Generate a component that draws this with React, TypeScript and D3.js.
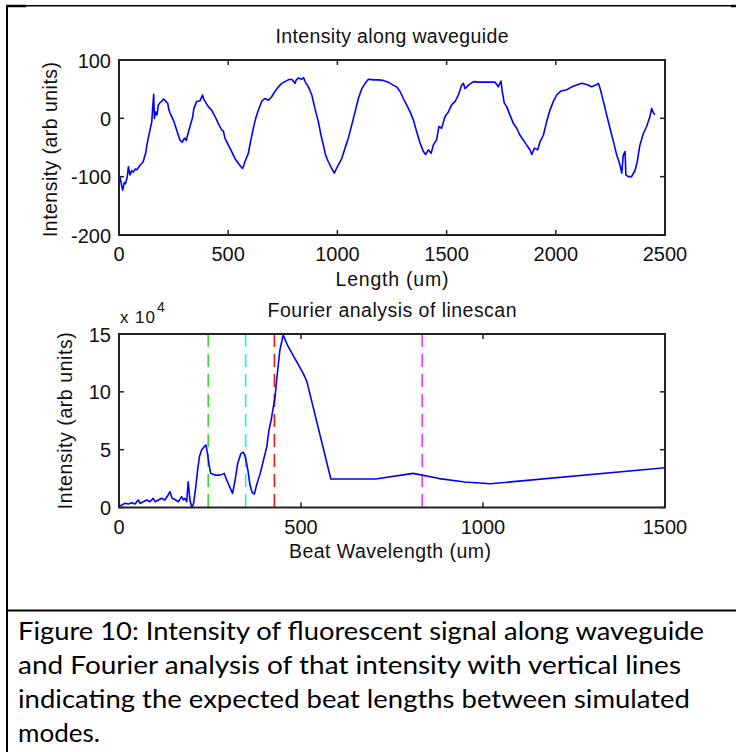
import React from "react";
import * as d3 from "d3";

// ---- Top plot: intensity along waveguide ----
const lengthUm = [
  0, 6, 12, 17, 24, 30, 38, 43, 50, 58, 66, 74, 82, 90, 97, 105, 111, 117, 122, 128,
  134, 142, 150, 154, 159, 162, 168, 174, 180, 188, 195, 203, 211, 217, 223, 228, 234, 249, 264, 279,
  290, 296, 302, 308, 314, 325, 336, 343, 356, 371, 382, 388, 394, 409, 424, 440, 455, 470, 478, 485,
  501, 516, 531, 546, 559, 566, 572, 577, 592, 604, 615, 626, 638, 653, 668, 684, 699, 714, 730, 745,
  760, 775, 791, 806, 812, 821, 836, 845, 852, 867, 883, 897, 913, 925, 936, 946, 958, 974, 986, 992,
  1004, 1020, 1035, 1050, 1066, 1081, 1096, 1112, 1127, 1142, 1165, 1188, 1210, 1233, 1256, 1271, 1287, 1302, 1317, 1333,
  1348, 1363, 1379, 1394, 1404, 1416, 1429, 1439, 1454, 1465, 1477, 1493, 1508, 1523, 1539, 1554, 1569, 1577, 1584, 1600,
  1623, 1645, 1676, 1722, 1737, 1749, 1755, 1764, 1775, 1790, 1806, 1821, 1836, 1851, 1867, 1882, 1890, 1902, 1917, 1928,
  1943, 1958, 1973, 1989, 2004, 2024, 2050, 2073, 2096, 2119, 2142, 2164, 2183, 2195, 2203, 2218, 2233, 2248, 2264, 2279,
  2294, 2302, 2309, 2317, 2321, 2332, 2347, 2363, 2373, 2385, 2401, 2416, 2431, 2439, 2447, 2454,
];
const intensity = [
  -98, -103, -115, -123, -110, -112, -100, -83, -97, -90, -92, -87, -88, -84, -80, -77, -74, -66, -60, -45,
  -34, -20, -6, 17, 41, 0, 11, 6, 23, 27, 29, 33, 31, 28, 26, 15, 9, -3, -20, -37,
  -41, -36, -34, -38, -29, -14, 0, 17, 29, 30, 40, 33, 29, 20, 14, 3, -9, -20, -22, -34,
  -46, -57, -69, -77, -83, -86, -80, -74, -60, -37, -17, 0, 14, 29, 34, 31, 37, 46, 54, 60,
  63, 66, 67, 60, 66, 69, 67, 70, 63, 54, 40, 17, -6, -29, -46, -63, -74, -86, -94, -89,
  -80, -69, -51, -34, -11, 11, 34, 51, 60, 67, 66, 66, 65, 62, 57, 54, 46, 34, 23, 11,
  -3, -23, -43, -57, -62, -54, -60, -46, -37, -14, -17, 3, 11, 23, 29, 40, 57, 60, 51, 57,
  63, 62, 62, 62, 54, 64, 46, 26, 20, 6, -9, -17, -29, -37, -46, -54, -62, -51, -54, -40,
  -29, -6, 14, 29, 40, 47, 49, 54, 57, 60, 58, 54, 57, 60, 51, 29, 6, -17, -40, -63,
  -80, -94, -63, -57, -97, -100, -100, -89, -74, -46, -26, -14, 3, 17, 9, 6,
];
const topXTicks = [0, 500, 1000, 1500, 2000, 2500];
const topYTicks = [-200, -100, 0, 100];

// ---- Bottom plot: Fourier analysis (values in units of 10^4) ----
const beatWavelength = [
  0, 7, 16, 26, 35, 44, 53, 58, 67, 76, 85, 94, 99, 108, 117, 126, 135, 140, 146, 156,
  163, 172, 177, 181, 186, 190, 195, 200, 205, 211, 216, 221, 227, 234, 239, 243, 247, 252, 264, 278,
  289, 298, 308, 312, 319, 326, 335, 342, 348, 354, 360, 366, 372, 378, 388, 397, 406, 412, 418, 424,
  429, 433, 442, 451, 465, 483, 506, 516, 582, 705, 808, 880, 950, 1020, 1500,
];
const fourierIntensity = [
  0.13, 0.2, 0.36, 0.3, 0.42, 0.3, 0.65, 0.36, 0.5, 0.65, 0.5, 0.8, 0.5, 0.65, 0.8, 0.65, 1.08, 1.37, 0.8, 0.65,
  0.5, 0.94, 0.65, 0.8, 0.5, 2.23, 0.65, 0.0, 0.36, 1.8, 3.24, 4.4, 4.97, 5.26, 5.4, 4.68, 3.8, 2.95, 2.8, 2.8,
  2.95, 2.23, 1.5, 1.22, 2.38, 3.8, 4.68, 4.77, 4.25, 3.24, 1.94, 1.28, 1.17, 1.94, 2.95, 4.1, 5.26, 6.7, 7.56, 8.7,
  9.58, 11.0, 13.6, 14.9, 13.9, 12.9, 11.6, 10.9, 2.46, 2.46, 2.95, 2.5, 2.2, 2.05, 3.44,
];
const bottomXTicks = [0, 500, 1000, 1500];
const bottomYTicks = [0, 5, 10, 15];

// expected beat lengths between simulated modes
const expectedBeats = [245, 348, 427, 833];
const beatColors = ["#33dd33", "#22eeee", "#ee1111", "#ff33ff"];

const captionLines = [
  "Figure 10: Intensity of fluorescent signal along waveguide",
  "and Fourier analysis of that intensity with vertical lines",
  "indicating the expected beat lengths between simulated",
  "modes.",
];
const captionWidths = [686, 663, 672, 82];

const MFONT = "'Liberation Sans', Arial, Helvetica, sans-serif";
const AXC = "#222";

const L = 119, R = 665;

function Axes({ x, y, xTicks, yTicks, top, bottom }) {
  const tl = 5;
  return (
    <g>
      {xTicks.map((t) => (
        <g key={"x" + t}>
          <line x1={x(t)} x2={x(t)} y1={bottom} y2={bottom - tl} stroke={AXC} strokeWidth={1.5} />
          <line x1={x(t)} x2={x(t)} y1={top} y2={top + tl} stroke={AXC} strokeWidth={1.5} />
          <text x={x(t)} y={bottom + 26} textAnchor="middle" fontFamily={MFONT} fontSize={20} fill="#111">
            {t}
          </text>
        </g>
      ))}
      {yTicks.map((t) => (
        <g key={"y" + t}>
          <line x1={L} x2={L + tl} y1={y(t)} y2={y(t)} stroke={AXC} strokeWidth={1.5} />
          <line x1={R} x2={R - tl} y1={y(t)} y2={y(t)} stroke={AXC} strokeWidth={1.5} />
          <text x={111} y={y(t) + 7.5} textAnchor="end" fontFamily={MFONT} fontSize={20} fill="#111">
            {t}
          </text>
        </g>
      ))}
      <rect x={L} y={top} width={R - L} height={bottom - top} fill="none" stroke={AXC} strokeWidth={2} />
    </g>
  );
}

export default function App() {
  // top
  const tTop = 60, tBot = 235;
  const x1 = d3.scaleLinear().domain([0, 2500]).range([L, R]);
  const y1 = d3.scaleLinear().domain([-200, 100]).range([tBot, tTop]);
  const line1 = d3
    .line<number>()
    .x((d, i) => x1(lengthUm[i]))
    .y((d) => y1(d));

  // bottom
  const bTop = 334, bBot = 507.5;
  const x2 = d3.scaleLinear().domain([0, 1500]).range([L, R]);
  const y2 = d3.scaleLinear().domain([0, 15]).range([bBot, bTop]);
  const line2 = d3
    .line<number>()
    .x((d, i) => x2(beatWavelength[i]))
    .y((d) => y2(d));

  return (
    <svg
      width={736}
      height={752}
      viewBox="0 0 736 752"
      style={{ position: "absolute", left: 0, top: 0, background: "#fff" }}
    >
      <rect x={0} y={0} width={736} height={752} fill="#fff" />
      {/* table frame */}
      <line x1={7} x2={7} y1={5} y2={752} stroke="#000" strokeWidth={2} />
      <line x1={6} x2={736} y1={5.75} y2={5.75} stroke="#000" strokeWidth={1.5} />
      <line x1={6} x2={26} y1={6} y2={6} stroke="#000" strokeWidth={2.5} />
      <line x1={731} x2={736} y1={6} y2={6} stroke="#000" strokeWidth={2.5} />
      <line x1={6} x2={736} y1={610.5} y2={610.5} stroke="#000" strokeWidth={2.2} />

      {/* ---- top plot ---- */}
      <text x={(L + R) / 2} y={43} textAnchor="middle" fontFamily={MFONT} fontSize={19.5} fill="#111"
        textLength={233} lengthAdjust="spacing">
        Intensity along waveguide
      </text>
      <path d={line1(intensity) || ""} fill="none" stroke="#0000ff" strokeWidth={1.6} strokeLinejoin="round" />
      <Axes x={x1} y={y1} xTicks={topXTicks} yTicks={topYTicks} top={tTop} bottom={tBot} />
      <text x={(L + R) / 2} y={286} textAnchor="middle" fontFamily={MFONT} fontSize={19.5} fill="#111"
        textLength={113} lengthAdjust="spacing">
        Length (um)
      </text>
      <text transform={`translate(56.5,${(tTop + tBot) / 2 + 2}) rotate(-90)`} textAnchor="middle"
        fontFamily={MFONT} fontSize={19.5} fill="#111" textLength={175} lengthAdjust="spacing">
        Intensity (arb units)
      </text>

      {/* ---- bottom plot ---- */}
      <text x={(L + R) / 2} y={317} textAnchor="middle" fontFamily={MFONT} fontSize={19.5} fill="#111"
        textLength={249} lengthAdjust="spacing">
        Fourier analysis of linescan
      </text>
      <text x={120} y={323} fontFamily={MFONT} fontSize={17} fill="#111" textLength={35} lengthAdjust="spacing">
        x 10
      </text>
      <text x={157} y={311.5} fontFamily={MFONT} fontSize={14} fill="#111">
        4
      </text>
      {expectedBeats.map((b, i) => (
        <line key={b} x1={x2(b)} x2={x2(b)} y1={bTop} y2={bBot} stroke={beatColors[i]} strokeWidth={1.6}
          strokeDasharray="13,7" />
      ))}
      <path d={line2(fourierIntensity) || ""} fill="none" stroke="#0000ff" strokeWidth={1.6} strokeLinejoin="round" />
      <Axes x={x2} y={y2} xTicks={bottomXTicks} yTicks={bottomYTicks} top={bTop} bottom={bBot} />
      <text x={390} y={557.5} textAnchor="middle" fontFamily={MFONT} fontSize={19.5} fill="#111"
        textLength={202} lengthAdjust="spacing">
        Beat Wavelength (um)
      </text>
      <text transform={`translate(71.5,${(bTop + bBot) / 2}) rotate(-90)`} textAnchor="middle"
        fontFamily={MFONT} fontSize={19.5} fill="#111" textLength={177} lengthAdjust="spacing">
        Intensity (arb units)
      </text>

      {/* ---- caption ---- */}
      {captionLines.map((t, i) => (
        <text key={i} x={18} y={640 + i * 34} fontFamily="Lato, 'Open Sans', sans-serif" fontSize={25} fill="#000"
          textLength={captionWidths[i]} lengthAdjust="spacingAndGlyphs">
          {t}
        </text>
      ))}
    </svg>
  );
}
